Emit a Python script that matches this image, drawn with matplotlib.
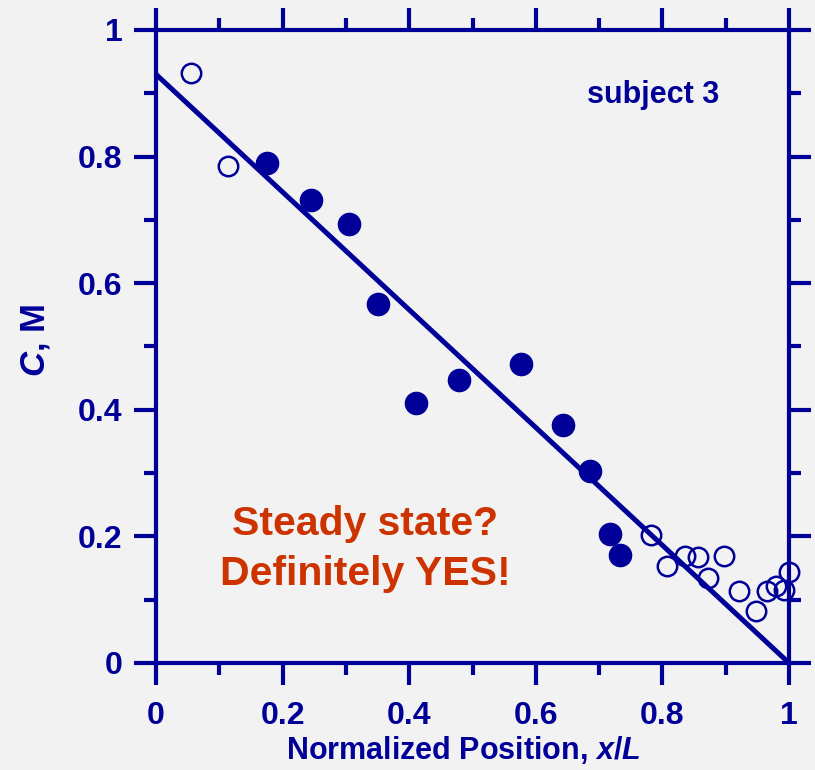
import matplotlib
matplotlib.use("Agg")
import matplotlib.pyplot as plt
from matplotlib.ticker import MultipleLocator

NAVY = "#000099"
ORANGE = "#cc3300"
BG = "#f2f2f2"

# measured points (x/L, C in M)
open_x = [0.055, 0.114, 0.782, 0.807, 0.836, 0.856, 0.872, 0.897, 0.921, 0.948, 0.965, 0.979, 0.992, 1.0]
open_y = [0.932, 0.785, 0.202, 0.154, 0.169, 0.168, 0.135, 0.169, 0.113, 0.082, 0.113, 0.121, 0.116, 0.143]
fill_x = [0.175, 0.245, 0.305, 0.351, 0.410, 0.479, 0.577, 0.643, 0.686, 0.717, 0.733]
fill_y = [0.790, 0.731, 0.694, 0.567, 0.410, 0.447, 0.473, 0.376, 0.303, 0.204, 0.171]

# linear profile drawn through the data
line_x = [0.0, 1.0]
line_y = [0.93, 0.0]

narrow = ["Liberation Sans Narrow", "Liberation Sans", "DejaVu Sans"]
wide = ["Liberation Sans", "DejaVu Sans"]

plt.rcParams["mathtext.fontset"] = "custom"
plt.rcParams["mathtext.bfit"] = "Liberation Sans:italic:bold"

fig = plt.figure(figsize=(8.15, 7.7), dpi=100, facecolor=BG)
ax = fig.add_axes([156 / 815, 107 / 770, 633 / 815, 633 / 770], facecolor=BG)

ax.plot(line_x, line_y, color=NAVY, lw=3.6, solid_capstyle="butt", clip_on=False, zorder=2)
ax.plot(fill_x, fill_y, "o", ms=16, color=NAVY, mec=NAVY, clip_on=False, zorder=3)
ax.plot(open_x, open_y, "o", ms=14, mfc="none", mec=NAVY, mew=1.8, clip_on=False, zorder=3)

ax.set_xlim(0, 1)
ax.set_ylim(0, 1)
ax.xaxis.set_major_locator(MultipleLocator(0.2))
ax.xaxis.set_minor_locator(MultipleLocator(0.1))
ax.yaxis.set_major_locator(MultipleLocator(0.2))
ax.yaxis.set_minor_locator(MultipleLocator(0.1))
ax.xaxis.set_major_formatter(lambda v, p: f"{v:g}")
ax.yaxis.set_major_formatter(lambda v, p: f"{v:g}")

for s in ax.spines.values():
    s.set_color(NAVY)
    s.set_linewidth(3)

ax.tick_params(which="both", direction="out", top=True, right=True,
               color=NAVY, width=3, labelcolor=NAVY)
ax.tick_params(which="major", length=16)
ax.tick_params(which="minor", length=8.5)
ax.tick_params(axis="x", which="major", pad=11)
ax.tick_params(axis="y", which="major", pad=8)

for lab in ax.get_xticklabels() + ax.get_yticklabels():
    lab.set_family(narrow)
    lab.set_fontweight("bold")
    lab.set_fontsize(23)

ax.set_xlabel("Normalized Position, $\\mathbfit{x}$/$\\mathbfit{L}$", family=narrow,
              fontweight="bold", fontsize=22, color=NAVY, va="center")
ax.xaxis.set_label_coords(0.485, -0.138)
ax.set_ylabel("$\\mathbfit{C}$, M", family=wide, fontweight="bold", fontsize=25, color=NAVY)
ax.yaxis.set_label_coords(-0.165, 0.51)

ax.text(0.785, 0.897, "subject 3", family=wide, fontweight="bold", fontsize=22,
        color=NAVY, ha="center", va="center")
ax.text(0.33, 0.18, "Steady state?\nDefinitely YES!", family=wide, fontweight="bold",
        fontsize=29.5, color=ORANGE, ha="center", va="center", linespacing=1.42)

fig.savefig("out.png", dpi=100, facecolor=BG)
